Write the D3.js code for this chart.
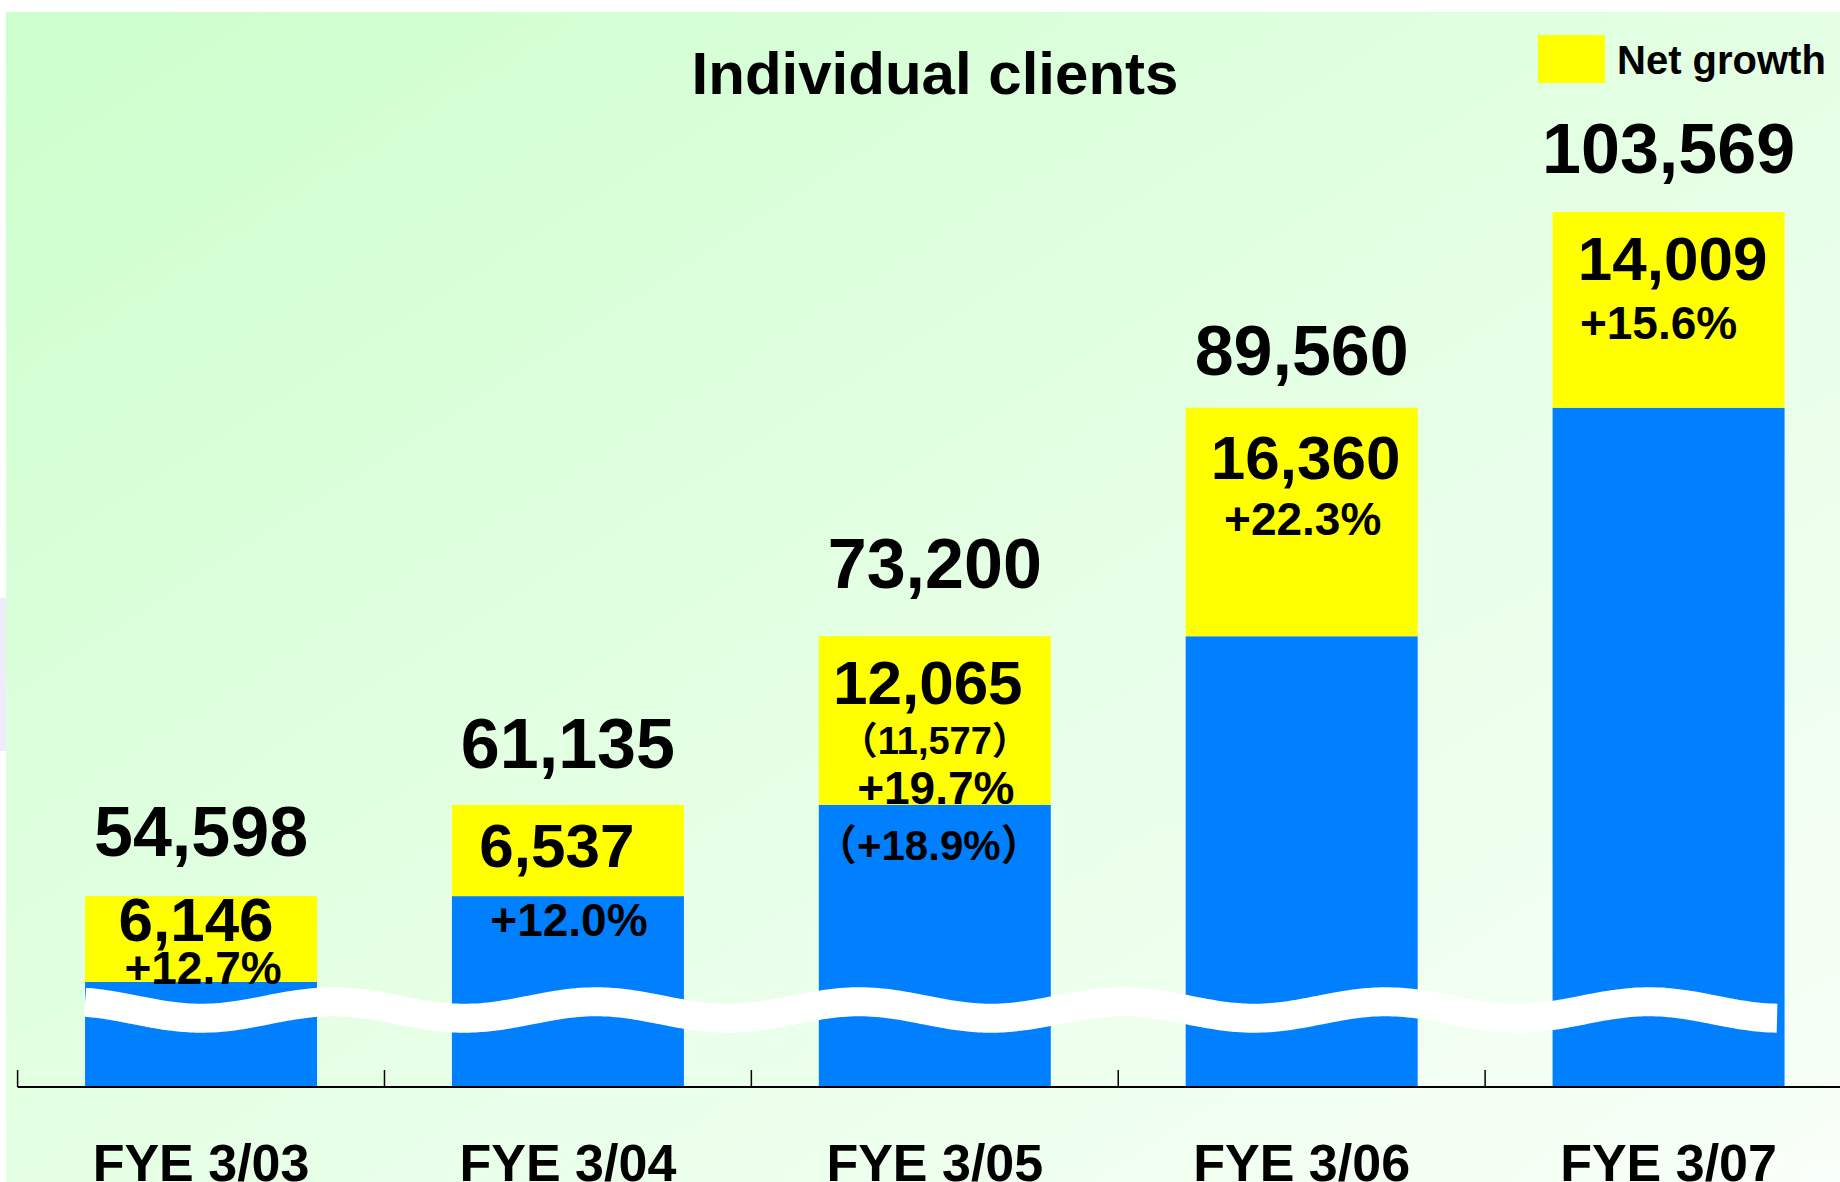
<!DOCTYPE html>
<html lang="en">
<head>
<meta charset="UTF-8">
<script src="https://cdnjs.cloudflare.com/ajax/libs/d3/7.8.4/d3.min.js"></script>
<title>Individual clients</title>
<style>
  html, body { margin: 0; padding: 0; background: #fff; }
  svg { display: block; }
  text { font-family: "Liberation Sans", Arial, "Noto Sans CJK JP", sans-serif; font-weight: bold; fill: #000; }
</style>
</head>
<body>
<script>
// data
const categories = ["FYE 3/03", "FYE 3/04", "FYE 3/05", "FYE 3/06", "FYE 3/07"]
const totals = [54598, 61135, 73200, 89560, 103569]
const netGrowth = [6146, 6537, 12065, 16360, 14009]
const growthPct = [12.7, 12.0, 19.7, 22.3, 15.6]
const altNetGrowth = [null, null, 11577, null, null]
const altGrowthPct = [null, null, 18.9, null, null]

// label placement, px from the top of the yellow block / bar centre
const totalDy = [-40, -37, -48, -33, -39]
const netDy = [45, 62, 68, 71, 68]
const netDx = [-5, -11, -7, 4, 4]
const pctDy = [88, 131, 168, 127, 127]
const pctDx = [2, 1, 1, 1, -10]
const altNetDy = 118
const altPctDy = 224

const W = 1840, H = 1182
const baseY = 1087

let svg = d3.select("body").append("svg")
  .attr("width", W)
  .attr("height", H)

let defs = svg.append("defs")
let grad = defs.append("linearGradient")
  .attr("id", "bg")
  .attr("x1", 0).attr("y1", 0)
  .attr("x2", 1).attr("y2", 1)
grad.append("stop").attr("offset", "0%").attr("stop-color", "#ccffcc")
grad.append("stop").attr("offset", "55%").attr("stop-color", "#e6ffe6")
grad.append("stop").attr("offset", "100%").attr("stop-color", "#f8fff8")

svg.append("rect")
  .attr("x", 0).attr("y", 598).attr("width", 6).attr("height", 153)
  .style("fill", "#eeebfa")

svg.append("rect")
  .attr("x", 6).attr("y", 12)
  .attr("width", W - 6).attr("height", H - 12)
  .style("fill", "url(#bg)")

let rows = categories.map((c, i) => ({
  cat: c,
  total: totals[i],
  net: netGrowth[i],
  prev: totals[i] - netGrowth[i],
  pct: growthPct[i],
  altNet: altNetGrowth[i],
  altPct: altGrowthPct[i],
  i: i
}))

let xScale = d3.scaleBand()
  .domain(categories)
  .range([17.6, 1852])
  .paddingInner(0.3677)
  .paddingOuter(0.18385)
  .align(0.5)

let yScale = d3.scaleLinear()
  .domain([40935, 103569])
  .range([baseY, 212])

const bw = xScale.bandwidth()
const gap = xScale.step() - bw
let cx = d => xScale(d.cat) + bw / 2

let bars = svg.selectAll("g.bar").data(rows).enter().append("g")
  .attr("class", "bar")

bars.append("rect")
  .attr("x", d => xScale(d.cat))
  .attr("y", d => yScale(d.prev))
  .attr("width", bw)
  .attr("height", d => baseY - yScale(d.prev))
  .style("fill", "#0080ff")

bars.append("rect")
  .attr("x", d => xScale(d.cat))
  .attr("y", d => yScale(d.total))
  .attr("width", bw)
  .attr("height", d => yScale(d.prev) - yScale(d.total))
  .style("fill", "#ffff00")

// wavy break across the bars
let breakY = baseY - 77
let x0 = xScale(categories[0]), x1 = xScale(categories[categories.length - 1]) + bw - 8
let wavePts = d3.range(x0, x1 + 1, 4).map(x => [x, breakY + 8.25 * Math.cos(2 * Math.PI * (x - 201.4) / 263.2)])
svg.append("path")
  .attr("d", d3.line().curve(d3.curveBasis)(wavePts))
  .style("fill", "none")
  .style("stroke", "#fff")
  .style("stroke-width", 29)

// axis line and ticks at band boundaries
svg.append("line")
  .attr("x1", 17.6).attr("x2", W)
  .attr("y1", baseY).attr("y2", baseY)
  .style("stroke", "#000").style("stroke-width", 2)

svg.selectAll("line.tick").data(categories).enter().append("line")
  .attr("class", "tick")
  .attr("x1", d => xScale(d) - gap / 2)
  .attr("x2", d => xScale(d) - gap / 2)
  .attr("y1", baseY).attr("y2", baseY - 17)
  .style("stroke", "#000").style("stroke-width", 1.5)

svg.selectAll("text.cat").data(categories).enter().append("text")
  .attr("class", "cat")
  .attr("x", d => xScale(d) + bw / 2)
  .attr("y", 1181)
  .attr("text-anchor", "middle")
  .style("font-size", "52px")
  .text(d => d)

let fmt = d3.format(",")
let fmtPct = d3.format("+.1f")

bars.append("text")
  .attr("x", cx)
  .attr("y", d => yScale(d.total) + totalDy[d.i])
  .attr("text-anchor", "middle")
  .style("font-size", "70px")
  .text(d => fmt(d.total))

bars.append("text")
  .attr("x", d => cx(d) + netDx[d.i])
  .attr("y", d => yScale(d.total) + netDy[d.i])
  .attr("text-anchor", "middle")
  .style("font-size", "62px")
  .text(d => fmt(d.net))

bars.append("text")
  .attr("x", d => cx(d) + pctDx[d.i])
  .attr("y", d => yScale(d.total) + pctDy[d.i])
  .attr("text-anchor", "middle")
  .style("font-size", "46px")
  .text(d => fmtPct(d.pct) + "%")

bars.filter(d => d.altNet != null).append("text")
  .attr("x", cx)
  .attr("y", d => yScale(d.total) + altNetDy)
  .attr("text-anchor", "middle")
  .style("font-size", "38px")
  .text(d => "（" + fmt(d.altNet) + "）")

bars.filter(d => d.altPct != null).append("text")
  .attr("x", d => cx(d) - 6)
  .attr("y", d => yScale(d.total) + altPctDy)
  .attr("text-anchor", "middle")
  .style("font-size", "42px")
  .text(d => "（" + fmtPct(d.altPct) + "%）")

// title and legend
svg.append("text")
  .attr("x", 935).attr("y", 94)
  .attr("text-anchor", "middle")
  .style("font-size", "60px")
  .text("Individual clients")

svg.append("rect")
  .attr("x", 1538).attr("y", 35)
  .attr("width", 67).attr("height", 48)
  .style("fill", "#ffff00")

svg.append("text")
  .attr("x", 1617).attr("y", 74)
  .style("font-size", "40px")
  .text("Net growth")
</script>
</body>
</html>
